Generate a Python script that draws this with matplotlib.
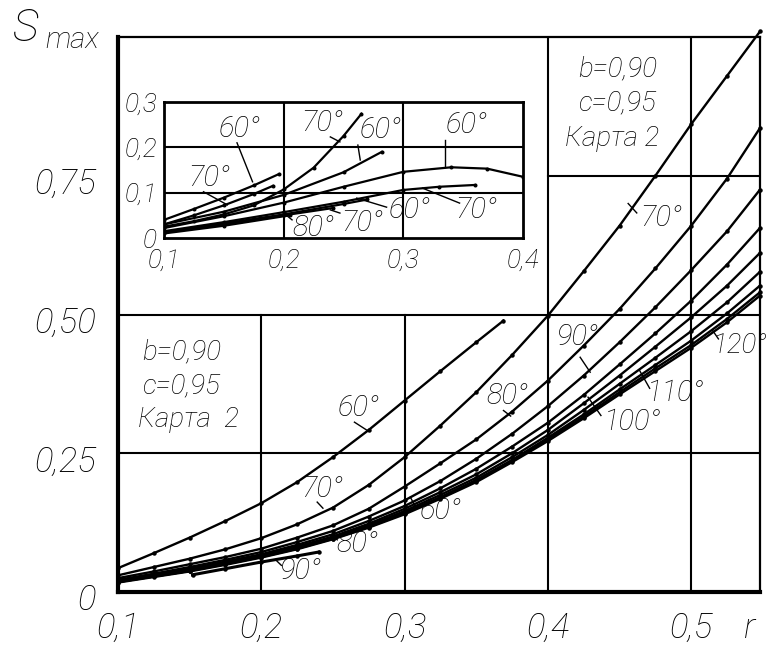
import numpy as np
import matplotlib
matplotlib.use("Agg")
import matplotlib.pyplot as plt
from matplotlib.transforms import ScaledTranslation

plt.rcParams['font.family'] = ['Roboto', 'DejaVu Sans']
plt.rcParams['font.style'] = 'italic'
plt.rcParams['font.weight'] = 'light'

# ---- main chart data (r, S_max) ----
r_main = [0.1, 0.125, 0.15, 0.175, 0.2, 0.225, 0.25, 0.275, 0.3, 0.325, 0.35,
          0.375, 0.4, 0.425, 0.45, 0.475, 0.5, 0.525, 0.548]
s60_r = [0.1, 0.125, 0.15, 0.175, 0.2, 0.225, 0.25, 0.275, 0.3, 0.325, 0.35, 0.369]
s60 = [0.043, 0.07, 0.098, 0.128, 0.16, 0.198, 0.243, 0.292, 0.345, 0.398, 0.45, 0.489]
s70 = [0.03, 0.045, 0.06, 0.077, 0.097, 0.122, 0.152, 0.193, 0.243, 0.3, 0.36,
       0.427, 0.498, 0.578, 0.66, 0.75, 0.843, 0.93, 1.01]
s80 = [0.025, 0.037, 0.05, 0.063, 0.078, 0.098, 0.12, 0.15, 0.19, 0.232, 0.275,
       0.325, 0.381, 0.444, 0.51, 0.583, 0.66, 0.745, 0.836]
s90 = [0.022, 0.033, 0.045, 0.058, 0.072, 0.09, 0.11, 0.136, 0.165, 0.2, 0.24,
       0.285, 0.335, 0.39, 0.45, 0.513, 0.58, 0.65, 0.725]
s100 = [0.02, 0.031, 0.042, 0.055, 0.068, 0.085, 0.104, 0.128, 0.155, 0.187, 0.222,
        0.262, 0.305, 0.355, 0.41, 0.466, 0.525, 0.59, 0.656]
s110 = [0.02, 0.03, 0.04, 0.053, 0.066, 0.082, 0.1, 0.123, 0.15, 0.18, 0.212,
        0.25, 0.292, 0.34, 0.39, 0.442, 0.495, 0.552, 0.611]
s120 = [0.019, 0.029, 0.039, 0.052, 0.065, 0.08, 0.098, 0.12, 0.146, 0.175, 0.206,
        0.243, 0.283, 0.328, 0.375, 0.422, 0.47, 0.522, 0.577]
sb1 = [0.018, 0.028, 0.038, 0.051, 0.064, 0.079, 0.097, 0.118, 0.143, 0.171, 0.202,
       0.238, 0.278, 0.32, 0.365, 0.409, 0.453, 0.502, 0.552]
sb2 = [0.018, 0.028, 0.038, 0.05, 0.063, 0.078, 0.096, 0.117, 0.142, 0.17, 0.2,
       0.236, 0.275, 0.316, 0.36, 0.403, 0.445, 0.492, 0.540]
sb3 = [0.017, 0.027, 0.037, 0.049, 0.062, 0.077, 0.095, 0.116, 0.14, 0.168, 0.198,
       0.234, 0.272, 0.313, 0.356, 0.398, 0.44, 0.486, 0.534]
s90_short_r = [0.152, 0.175, 0.2, 0.225, 0.24]
s90_short = [0.031, 0.042, 0.054, 0.065, 0.072]

# labels: text, text position, leader start, leader end
main_labels = [
    ("60°", (0.268, 0.331), (0.265, 0.306), (0.274, 0.291)),
    ("80°", (0.372, 0.353), (0.369, 0.327), (0.374, 0.317)),
    ("90°", (0.420, 0.460), (0.4225, 0.423), (0.4295, 0.396)),
    ("100°", (0.459, 0.306), (0.437, 0.318), (0.428, 0.351)),
    ("110°", (0.489, 0.358), (0.471, 0.367), (0.464, 0.399)),
    ("70°", (0.479, 0.673), (0.462, 0.683), (0.456, 0.700)),
    ("70°", (0.2424, 0.185), (0.239, 0.162), (0.243, 0.151)),
    ("80°", (0.267, 0.086), (0.253, 0.094), (0.248, 0.103)),
    ("60°", (0.325, 0.146), (0.307, 0.156), (0.304, 0.171)),
    ("90°", (0.227, 0.038), (0.214, 0.048), (0.21, 0.058)),
]
label_120 = ("120°", (0.5145, 0.444), (0.519, 0.456), (0.515, 0.471))

# ---- inset data ----
inA_r = [0.1, 0.125, 0.15, 0.175, 0.196]
inA = [0.04, 0.064, 0.089, 0.116, 0.141]
inB_r = [0.1, 0.125, 0.15, 0.175, 0.191]
inB = [0.03, 0.05, 0.072, 0.097, 0.115]
inC_r = [0.1, 0.125, 0.15, 0.175, 0.2, 0.225, 0.25, 0.265]
inC = [0.025, 0.037, 0.052, 0.072, 0.107, 0.155, 0.225, 0.274]
inD_r = [0.1, 0.15, 0.2, 0.25, 0.282]
inD = [0.03, 0.058, 0.095, 0.145, 0.19]
inE_r = [0.1, 0.15, 0.2, 0.25, 0.3, 0.34, 0.37, 0.4]
inE = [0.022, 0.048, 0.078, 0.113, 0.146, 0.156, 0.153, 0.135]
inF_r = [0.1, 0.15, 0.2, 0.25, 0.3, 0.33, 0.36]
inF = [0.015, 0.035, 0.057, 0.08, 0.106, 0.113, 0.117]
inG_r = [0.1, 0.15, 0.2, 0.25, 0.27]
inG = [0.013, 0.032, 0.052, 0.075, 0.085]
inH_r = [0.1, 0.15, 0.2, 0.241]
inH = [0.012, 0.03, 0.05, 0.066]
inI_r = [0.1, 0.15, 0.205]
inI = [0.01, 0.027, 0.05]

inset_labels = [
    ("60°", (0.1635, 0.241), (0.161, 0.21), (0.174, 0.124)),
    ("70°", (0.138, 0.132), (0.133, 0.102), (0.153, 0.073)),
    ("70°", (0.232, 0.254), (0.239, 0.223), (0.247, 0.212)),
    ("60°", (0.281, 0.238), (0.262, 0.205), (0.264, 0.172)),
    ("60°", (0.353, 0.249), (0.335, 0.216), (0.335, 0.157)),
    ("70°", (0.361, 0.062), (0.347, 0.077), (0.316, 0.110)),
    ("60°", (0.3055, 0.062), (0.286, 0.068), (0.261, 0.088)),
    ("70°", (0.2655, 0.033), (0.247, 0.055), (0.239, 0.062)),
    ("80°", (0.225, 0.022), (0.207, 0.04), (0.199, 0.057)),
]

fig = plt.figure(figsize=(7.71, 6.5), dpi=100)
ax = fig.add_axes([118 / 771, 58 / 650, 642 / 771, 555 / 650])
ax.set_xlim(0.1, 0.548)
ax.set_ylim(0, 1.0)

lw_grid = 1.5
# grid pieces (upper left part is taken by the inset)
for xv in (0.2, 0.3):
    ax.plot([xv, xv], [0, 0.5], color='black', lw=lw_grid, zorder=1)
for xv in (0.4, 0.5):
    ax.plot([xv, xv], [0, 1.0], color='black', lw=lw_grid, zorder=1)
for yv in (0.25, 0.5):
    ax.plot([0.1, 0.548], [yv, yv], color='black', lw=lw_grid, zorder=1)
ax.plot([0.4, 0.548], [0.75, 0.75], color='black', lw=lw_grid, zorder=1)

line_kw = dict(color='black', lw=1.7, marker='o', ms=2.2, zorder=3)
ax.plot(s60_r, s60, **line_kw)
for s in (s70, s80, s90, s100, s110, s120, sb1, sb2, sb3):
    ax.plot(r_main, s, clip_on=False, **line_kw)
ax.plot(s90_short_r, s90_short, color='black', lw=2.2, marker='o', ms=2.2, zorder=3)

lab_fs = 21
for txt, pos, p0, p1 in main_labels:
    ax.text(pos[0], pos[1], txt, fontsize=lab_fs, ha='center', va='center', zorder=5)
    ax.plot([p0[0], p1[0]], [p0[1], p1[1]], color='black', lw=1.0, zorder=4)
txt, pos, p0, p1 = label_120
ax.text(pos[0], pos[1], txt, fontsize=20, ha='left', va='center', zorder=5)
ax.plot([p0[0], p1[0]], [p0[1], p1[1]], color='black', lw=1.0, zorder=4)

# text blocks
blk_fs = 20
for (xc, yc, t) in [(0.1442, 0.432, "b=0,90"), (0.1442, 0.372, "c=0,95"), (0.149, 0.31, "Карта  2")]:
    ax.text(xc, yc, t, fontsize=blk_fs, ha='center', va='center')
for (xc, yc, t) in [(0.4484, 0.942, "b=0,90"), (0.4484, 0.881, "c=0,95"), (0.4449, 0.818, "Карта 2")]:
    ax.text(xc, yc, t, fontsize=blk_fs, ha='center', va='center')

# spines and ticks
for side in ('left', 'bottom'):
    ax.spines[side].set_linewidth(3.0)
for side in ('top', 'right'):
    ax.spines[side].set_linewidth(1.6)
ax.set_xticks([0.1, 0.2, 0.3, 0.4, 0.5])
ax.set_xticklabels(['0,1', '0,2', '0,3', '0,4', '0,5'])
ax.set_yticks([0, 0.25, 0.5, 0.75])
ax.set_yticklabels(['0', '0,25', '0,50', '0,75'])
ax.tick_params(length=0, labelsize=25)
ax.tick_params(axis='x', pad=14)
ax.tick_params(axis='y', pad=16)
down = ScaledTranslation(0, -5 / 100, fig.dpi_scale_trans)
for lbl in ax.get_yticklabels():
    lbl.set_transform(lbl.get_transform() + down)
ax.text(0.5405, -0.066, "r", fontsize=25, ha='center', va='center')
fig.text(12 / 771, 1 - 29 / 650, "S", fontsize=32, ha='left', va='center')
fig.text(45 / 771, 1 - 40 / 650, "max", fontsize=21, ha='left', va='center')

# ---- inset ----
ins = fig.add_axes([164 / 771, 412 / 650, 359 / 771, 136 / 650])
ins.set_xlim(0.1, 0.4)
ins.set_ylim(0, 0.3)
for xv in (0.2, 0.3):
    ins.axvline(xv, color='black', lw=lw_grid, zorder=1)
for yv in (0.1, 0.2):
    ins.axhline(yv, color='black', lw=lw_grid, zorder=1)
in_kw = dict(color='black', lw=1.6, marker='o', ms=1.9, zorder=3)
for xr, ys in [(inA_r, inA), (inB_r, inB), (inC_r, inC), (inD_r, inD), (inE_r, inE),
               (inF_r, inF), (inG_r, inG), (inH_r, inH), (inI_r, inI)]:
    ins.plot(xr, ys, **in_kw)
for txt, pos, p0, p1 in inset_labels:
    ins.text(pos[0], pos[1], txt, fontsize=lab_fs, ha='center', va='center', zorder=5)
    ins.plot([p0[0], p1[0]], [p0[1], p1[1]], color='black', lw=1.0, zorder=4)
for sp in ins.spines.values():
    sp.set_linewidth(2.0)
ins.set_xticks([0.1, 0.2, 0.3, 0.4])
ins.set_xticklabels(['0,1', '0,2', '0,3', '0,4'])
ins.set_yticks([0, 0.1, 0.2, 0.3])
ins.set_yticklabels(['0', '0,1', '0,2', '0,3'])
ins.tick_params(length=0, labelsize=19)
ins.tick_params(axis='x', pad=8)
ins.tick_params(axis='y', pad=5)

fig.savefig("out.png", dpi=100)
